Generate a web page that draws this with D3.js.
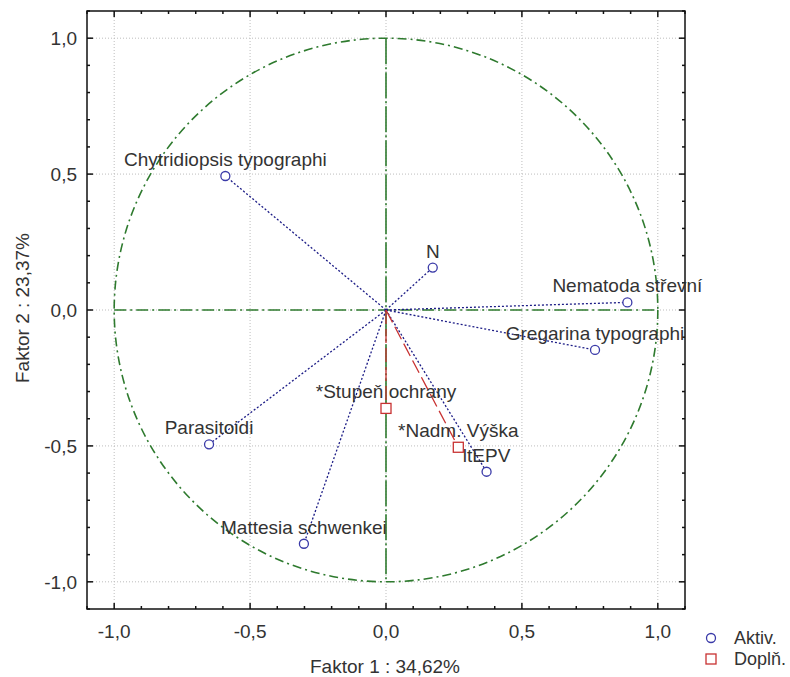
<!DOCTYPE html>
<html>
<head>
<meta charset="utf-8">
<script src="https://cdn.jsdelivr.net/npm/d3@7"></script>
<style>
  html, body { margin: 0; padding: 0; background: #fff; }
  svg { display: block; }
  text { font-family: "Liberation Sans", Arial, sans-serif; fill: #333; }
</style>
</head>
<body>
<svg id="chart" width="790" height="677"></svg>
<script>
// Active variables (factor loadings on factors 1 and 2)
const activeNames = ["Chytridiopsis typographi", "N", "Nematoda střevní", "Gregarina typographi",
                     "Parasitoidi", "Mattesia schwenkei", "ltEPV"];
const activeF1 = [-0.591, 0.172, 0.888, 0.769, -0.651, -0.302, 0.370];
const activeF2 = [0.493, 0.156, 0.028, -0.147, -0.494, -0.860, -0.595];

// Supplementary variables
const suppNames = ["*Stupeň ochrany", "*Nadm. Výška"];
const suppF1 = [0.0, 0.266];
const suppF2 = [-0.362, -0.505];

// Axis ticks and labels
const majorTicks = [-1.0, -0.5, 0.0, 0.5, 1.0];
const minorTicks = [-1.1, -0.9, -0.8, -0.7, -0.6, -0.4, -0.3, -0.2, -0.1,
                    0.1, 0.2, 0.3, 0.4, 0.6, 0.7, 0.8, 0.9, 1.1];
const xTitle = "Faktor 1 : 34,62%";
const yTitle = "Faktor 2 : 23,37%";
const legendLabels = ["Aktiv.", "Doplň."];

const svg = d3.select("#chart");
const L = 87, R = 685, T = 11, B = 609;
const x = d3.scaleLinear().domain([-1.1, 1.1]).range([L, R]);
const y = d3.scaleLinear().domain([-1.1, 1.1]).range([B, T]);
const fmt = v => d3.format(".1f")(v).replace(".", ",").replace("−", "-");

const green = "#2e7a2e", navy = "#1c1c86", blue = "#3a3aa8", red = "#c83232";
const FS = 19;

// Grid
const grid = svg.append("g");
majorTicks.forEach(v => {
  grid.append("line").attr("x1", x(v)).attr("x2", x(v)).attr("y1", T).attr("y2", B)
    .attr("stroke", "#bdbdbd").attr("stroke-width", 1).attr("stroke-dasharray", "1,2");
  grid.append("line").attr("x1", L).attr("x2", R).attr("y1", y(v)).attr("y2", y(v))
    .attr("stroke", "#bdbdbd").attr("stroke-width", 1).attr("stroke-dasharray", "1,2");
});

// Unit circle and zero axes
svg.append("circle").attr("cx", x(0)).attr("cy", y(0)).attr("r", x(1) - x(0))
  .attr("fill", "none").attr("stroke", green).attr("stroke-width", 1.6)
  .attr("stroke-dasharray", "9,4,2,4");
svg.append("line").attr("x1", x(-1)).attr("x2", x(1)).attr("y1", y(0)).attr("y2", y(0))
  .attr("stroke", green).attr("stroke-width", 1.6).attr("stroke-dasharray", "12,4,2,4");
svg.append("line").attr("x1", x(0)).attr("x2", x(0)).attr("y1", y(1)).attr("y2", y(-1))
  .attr("stroke", green).attr("stroke-width", 1.6).attr("stroke-dasharray", "26,3,2,3");

// Vectors from origin
const active = activeNames.map((n, i) => ({ name: n, f1: activeF1[i], f2: activeF2[i] }));
const supp = suppNames.map((n, i) => ({ name: n, f1: suppF1[i], f2: suppF2[i] }));

svg.append("g").selectAll("line").data(active).join("line")
  .attr("x1", x(0)).attr("y1", y(0)).attr("x2", d => x(d.f1)).attr("y2", d => y(d.f2))
  .attr("stroke", navy).attr("stroke-width", 1.3).attr("stroke-dasharray", "2,2");
svg.append("g").selectAll("line").data(supp).join("line")
  .attr("x1", x(0)).attr("y1", y(0)).attr("x2", d => x(d.f1)).attr("y2", d => y(d.f2))
  .attr("stroke", red).attr("stroke-width", 1.3).attr("stroke-dasharray", "14,5");

// Markers
svg.append("g").selectAll("circle").data(active).join("circle")
  .attr("cx", d => x(d.f1)).attr("cy", d => y(d.f2)).attr("r", 4.5)
  .attr("fill", "#fff").attr("stroke", blue).attr("stroke-width", 1.3);
svg.append("g").selectAll("rect").data(supp).join("rect")
  .attr("x", d => x(d.f1) - 5).attr("y", d => y(d.f2) - 5).attr("width", 10).attr("height", 10)
  .attr("fill", "#fff").attr("stroke", red).attr("stroke-width", 1.3);

// Frame and ticks
svg.append("rect").attr("x", L).attr("y", T).attr("width", R - L).attr("height", B - T)
  .attr("fill", "none").attr("stroke", "#111").attr("stroke-width", 1.5);
const ticks = svg.append("g").attr("stroke", "#111").attr("stroke-width", 1.5);
function tickSet(vals, len) {
  vals.forEach(v => {
    ticks.append("line").attr("x1", x(v)).attr("x2", x(v)).attr("y1", B).attr("y2", B - len);
    ticks.append("line").attr("x1", x(v)).attr("x2", x(v)).attr("y1", T).attr("y2", T + len);
    ticks.append("line").attr("y1", y(v)).attr("y2", y(v)).attr("x1", L).attr("x2", L + len);
    ticks.append("line").attr("y1", y(v)).attr("y2", y(v)).attr("x1", R).attr("x2", R - len);
  });
}
tickSet(majorTicks, 6);
tickSet(minorTicks, 3);

// Tick labels
svg.append("g").selectAll("text").data(majorTicks).join("text")
  .attr("x", d => x(d)).attr("y", 638).attr("text-anchor", "middle")
  .attr("font-size", FS).text(fmt);
svg.append("g").selectAll("text").data(majorTicks).join("text")
  .attr("x", 77).attr("y", d => y(d) + 7).attr("text-anchor", "end")
  .attr("font-size", FS).text(fmt);

// Axis titles
svg.append("text").attr("x", 385).attr("y", 673).attr("text-anchor", "middle")
  .attr("font-size", FS).text(xTitle);
svg.append("text").attr("transform", "translate(29,308) rotate(-90)")
  .attr("text-anchor", "middle").attr("font-size", FS).text(yTitle);

// Point labels
svg.append("g").selectAll("text").data(active.concat(supp)).join("text")
  .attr("x", d => x(d.f1)).attr("y", d => y(d.f2) - 10).attr("text-anchor", "middle")
  .attr("font-size", FS).text(d => d.name);

// Legend
const lg = svg.append("g");
lg.append("circle").attr("cx", 711).attr("cy", 638).attr("r", 4.5)
  .attr("fill", "#fff").attr("stroke", blue).attr("stroke-width", 1.3);
lg.append("rect").attr("x", 706).attr("y", 654).attr("width", 10).attr("height", 10)
  .attr("fill", "#fff").attr("stroke", red).attr("stroke-width", 1.3);
lg.append("text").attr("x", 734).attr("y", 644).attr("font-size", 18).text(legendLabels[0]);
lg.append("text").attr("x", 734).attr("y", 665).attr("font-size", 18).text(legendLabels[1]);
</script>
</body>
</html>
